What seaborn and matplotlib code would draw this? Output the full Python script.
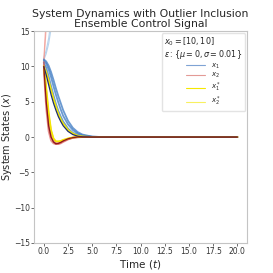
import numpy as np
import seaborn as sns
import matplotlib.pyplot as plt
from matplotlib.lines import Line2D

# -------------------------
# Data (time grid + trajectories)
# -------------------------
t = [0, 0.25, 0.5, 0.75, 1, 1.25, 1.5, 1.75, 2, 2.5, 3, 3.5, 4, 5, 6, 8, 10, 15, 20]

# x1 ensemble members
x1_runs = [
    [10.8, 10.4, 9.6, 8.5, 7.2, 6.0, 4.9, 3.9, 3.0, 1.8, 1.0, 0.5, 0.22, 0.05, 0, 0, 0, 0, 0],
    [10.5, 9.8, 8.6, 7.2, 5.9, 4.7, 3.7, 2.9, 2.2, 1.2, 0.6, 0.3, 0.1, 0.02, 0, 0, 0, 0, 0],
    [11.0, 10.7, 10.1, 9.2, 8.1, 6.9, 5.8, 4.8, 3.8, 2.3, 1.3, 0.7, 0.35, 0.06, 0, 0, 0, 0, 0],
]
x1_mean = [10.0, 8.8, 7.4, 6.0, 4.8, 3.8, 2.9, 2.2, 1.6, 0.8, 0.35, 0.12, 0.03, 0, 0, 0, 0, 0, 0]

# x2 ensemble members
x2_runs = [
    [10.2, 5.0, 1.5, 0.0, -0.7, -1.0, -0.95, -0.8, -0.6, -0.3, -0.1, -0.03, 0, 0, 0, 0, 0, 0, 0],
    [9.5, 4.0, 0.8, -0.5, -0.9, -1.0, -0.85, -0.7, -0.5, -0.25, -0.08, 0, 0, 0, 0, 0, 0, 0, 0],
    [10.6, 6.5, 3.0, 0.8, -0.3, -0.8, -1.0, -0.9, -0.7, -0.35, -0.12, -0.03, 0, 0, 0, 0, 0, 0, 0],
]
x2_mean = [10.0, 5.0, 1.6, 0.0, -0.7, -0.95, -0.9, -0.75, -0.55, -0.25, -0.08, 0, 0, 0, 0, 0, 0, 0, 0]

# reference (control) trajectories
x1_star = [10.0, 9.2, 8.0, 6.7, 5.4, 4.3, 3.3, 2.5, 1.9, 1.0, 0.5, 0.2, 0.08, 0, 0, 0, 0, 0, 0]
x2_star = [10.0, 7.0, 3.5, 1.0, -0.2, -0.6, -0.6, -0.55, -0.4, -0.2, -0.05, 0, 0, 0, 0, 0, 0, 0, 0]

# outlier runs that blow up
x1_outliers = [
    [11.2, 12.3, 14.0, 16.5, 20, 25, 30, 30, 30, 30, 30, 30, 30, 30, 30, 30, 30, 30, 30],
    [10.9, 11.8, 13.2, 15.3, 18, 22, 27, 30, 30, 30, 30, 30, 30, 30, 30, 30, 30, 30, 30],
]
x2_outliers = [
    [11.0, 17.0, 24, 30, 30, 30, 30, 30, 30, 30, 30, 30, 30, 30, 30, 30, 30, 30, 30],
    [10.5, 15.5, 21, 28, 30, 30, 30, 30, 30, 30, 30, 30, 30, 30, 30, 30, 30, 30, 30],
]

x0_label = r"$x_0 = [10, 10]$"
eps_label = r"$\varepsilon : \{\mu = 0, \sigma = 0.01\}$"

# -------------------------
# Plot
# -------------------------
sns.set_style("white", {"axes.edgecolor": "#c4c4c4", "xtick.bottom": True, "ytick.left": True})

fig, ax = plt.subplots(figsize=(2.73, 2.73), dpi=100)

blue, red, yellow = "#3a78c2", "#d9534f", "#f5e800"

for run in x1_outliers:
    sns.lineplot(x=t, y=run, ax=ax, color="#9cc3e6", alpha=0.7, lw=0.8)
for run in x2_outliers:
    sns.lineplot(x=t, y=run, ax=ax, color="#f09890", alpha=0.7, lw=0.8)

for run in x1_runs:
    sns.lineplot(x=t, y=run, ax=ax, color=blue, alpha=0.75, lw=1.3)
for run in x2_runs:
    sns.lineplot(x=t, y=run, ax=ax, color=red, alpha=0.6, lw=1.3)

sns.lineplot(x=t, y=x1_star, ax=ax, color=yellow, lw=1.3)
sns.lineplot(x=t, y=x2_star, ax=ax, color=yellow, lw=1.3)
sns.lineplot(x=t, y=x1_mean, ax=ax, color="#1f2f6b", lw=0.9)
sns.lineplot(x=t, y=x2_mean, ax=ax, color="#8b1a1a", lw=0.9)

ax.set_ylim(-15, 15)
ax.set_xlim(-1, 21)
ax.set_xticks(np.arange(0, 20.1, 2.5))
ax.set_xticklabels([f"{v:.1f}" for v in np.arange(0, 20.1, 2.5)])
ax.set_yticks([-15, -10, -5, 0, 5, 10, 15])
ax.tick_params(labelsize=5.5, length=2, width=0.5, colors="#333333", pad=1.2)

ax.set_xlabel(r"Time ($t$)", fontsize=7.5, labelpad=1)
ax.set_ylabel(r"System States ($x$)", fontsize=7.0, labelpad=0)
ax.set_title("System Dynamics with Outlier Inclusion\nEnsemble Control Signal", fontsize=7.8, pad=3,
             linespacing=1.0)

handles = [
    Line2D([], [], color="#7fa3d4", lw=0.8),
    Line2D([], [], color="#e39a96", lw=0.8),
    Line2D([], [], color=yellow, lw=0.8),
    Line2D([], [], color="#f8f060", lw=0.8),
]
labels = [r"$x_1$", r"$x_2$", r"$x_1^*$", r"$x_2^*$"]
leg = ax.legend(handles, labels, title=x0_label + "\n" + eps_label, loc="upper right",
                fontsize=5, title_fontsize=5.8, frameon=True, handlelength=2.8,
                borderpad=0.35, labelspacing=0.1, borderaxespad=0.3)
leg.get_title().set_multialignment("left")
leg.get_title().set_linespacing(0.95)
leg.get_frame().set_edgecolor("#dddddd")

fig.subplots_adjust(left=0.125, right=0.905, bottom=0.11, top=0.886)
fig.savefig("out.png", dpi=100)
